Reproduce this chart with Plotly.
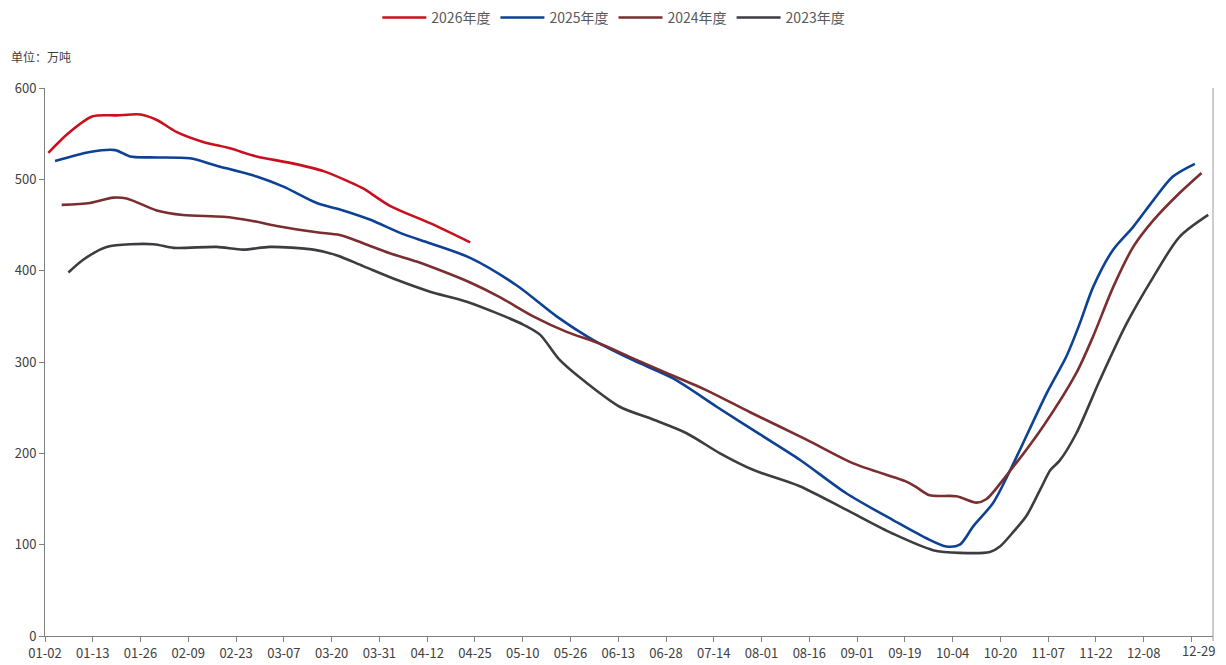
import plotly.graph_objects as go

# x positions are in units of the category-axis label spacing (0 = 01-02, 1 = 01-13, ...)
tick_labels = ["01-02", "01-13", "01-26", "02-09", "02-23", "03-07", "03-20", "03-31",
               "04-12", "04-25", "05-10", "05-26", "06-13", "06-28", "07-14", "08-01",
               "08-16", "09-01", "09-19", "10-04", "10-20", "11-07", "11-22", "12-08"]
last_label = "12-29"

x_2026 = [0.07, 0.5, 1.0, 1.5, 2.0, 2.34, 2.75, 3.31, 3.87, 4.43, 5.13, 5.83, 6.38, 6.66,
          7.22, 8.06, 8.9]
y_2026 = [529, 551, 569, 570, 571, 565, 552, 541, 534, 525, 518, 509, 497, 490,
          471, 452, 431]

x_2025 = [0.21, 0.94, 1.47, 1.78, 2.2, 3.03, 3.59, 4.43, 4.99, 5.69, 6.24, 6.8, 7.5, 8.06,
          8.9, 9.87, 10.71, 11.48, 12.31, 13.15, 14.06, 14.96, 15.8, 16.78, 17.75, 18.45,
          18.87, 19.15, 19.43, 19.85, 20.2, 20.97, 21.38, 21.66, 21.94, 22.36, 22.78,
          23.2, 23.61, 24.07]
y_2025 = [520, 530, 532, 525, 524, 523, 515, 503, 492, 474, 466, 456, 440, 430,
          414, 384, 350, 324, 302, 282, 251, 221, 193, 156, 127, 107,
          98, 100, 120, 146, 181, 266, 306, 342, 382, 423, 448,
          477, 503, 517]

x_2024 = [0.35, 0.94, 1.43, 1.71, 2.34, 2.89, 3.73, 4.29, 4.85, 5.69, 6.17, 6.66, 7.22,
          7.78, 8.34, 8.9, 9.52, 10.22, 10.92, 11.62, 12.31, 13.01, 13.85, 14.76, 15.94,
          16.92, 18.03, 18.24, 18.52, 19.08, 19.5, 19.71, 20.13, 20.9, 21.59, 21.94,
          22.36, 22.78, 23.2, 23.75, 24.21]
y_2024 = [472, 474, 480, 479, 466, 461, 459, 455, 449, 442, 439, 430, 419,
          410, 399, 387, 371, 350, 333, 320, 304, 288, 269, 245, 215,
          189, 169, 163, 154, 153, 146, 150, 176, 230, 288, 328,
          382, 426, 455, 485, 507]

x_2023 = [0.49, 0.8, 1.29, 2.27, 2.69, 3.59, 4.15, 4.71, 5.62, 6.1, 6.66, 7.36, 8.06,
          8.83, 10.01, 10.36, 10.78, 11.34, 12.03, 12.73, 13.43, 14.13, 14.82, 15.8,
          16.78, 17.75, 18.59, 19.15, 19.78, 19.99, 20.27, 20.55, 20.83, 21.05, 21.24,
          21.59, 22.08, 22.64, 23.2, 23.75, 24.35]
y_2023 = [398, 412, 426, 429, 425, 426, 423, 426, 423, 417, 405, 390, 377,
          366, 341, 330, 302, 277, 251, 237, 222, 200, 182, 164,
          138, 112, 94, 91, 92, 98, 114, 132, 160, 182, 192,
          222, 280, 342, 393, 437, 461]

series = [
    ("2026年度", x_2026, y_2026, "#C8101E"),
    ("2025年度", x_2025, y_2025, "#0D4194"),
    ("2024年度", x_2024, y_2024, "#7A2E30"),
    ("2023年度", x_2023, y_2023, "#3B3D40"),
]

FONT = "Liberation Sans Narrow, Noto Sans CJK SC, sans-serif"

fig = go.Figure()
for name, xs, ys, color in series:
    fig.add_trace(go.Scatter(
        x=xs, y=ys, name=name, mode="lines",
        line=dict(color=color, width=2.6, shape="spline", smoothing=0.8),
    ))

tickvals = list(range(len(tick_labels))) + [24]
ticktext = tick_labels + [""]

fig.update_layout(
    width=1218, height=657,
    margin=dict(l=37, r=13, t=80, b=29, autoexpand=False),
    paper_bgcolor="white", plot_bgcolor="white",
    font=dict(family=FONT, size=12, color="#404040"),
    showlegend=True,
    legend=dict(orientation="h", x=0.487, xanchor="center",
                y=1.128, yanchor="middle",
                font=dict(family=FONT, size=14, color="#595959"),
                itemwidth=44, tracegroupgap=0),
    xaxis=dict(range=[0, 24.45], tickmode="array", tickvals=tickvals, ticktext=ticktext,
               showgrid=False, zeroline=False, showline=True, linecolor="#808080",
               linewidth=1, ticks="outside", ticklen=5, tickcolor="#808080",
               ticklabeloverflow="allow",
               tickfont=dict(family=FONT, size=13, color="#404040")),
    yaxis=dict(range=[0, 600], tickmode="array", tickvals=[0, 100, 200, 300, 400, 500, 600],
               showgrid=False, zeroline=False, showline=True, linecolor="#808080",
               linewidth=1, ticks="outside", ticklen=5, tickcolor="#808080",
               tickfont=dict(family=FONT, size=13, color="#404040")),
    shapes=[dict(type="line", xref="paper", yref="paper", x0=1, x1=1, y0=-0.009, y1=1,
                 line=dict(color="#9a9a9a", width=1))],
    annotations=[
        dict(text="单位：万吨", xref="paper", yref="paper",
             x=-0.031, y=1.057, xanchor="left", yanchor="middle",
             showarrow=False,
             font=dict(family="Noto Sans CJK SC", size=12, color="#404040")),
        dict(text=last_label, xref="paper", yref="paper",
             x=1.0, y=-0.006, xanchor="right", yanchor="top", xshift=4,
             showarrow=False,
             font=dict(family=FONT, size=13, color="#404040")),
    ],
)

fig.write_html("out.html")
